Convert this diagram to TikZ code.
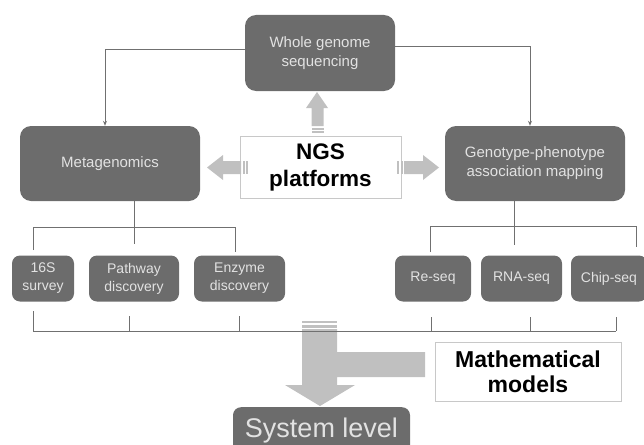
\documentclass[tikz,border=0pt]{standalone}
\usepackage{fontspec}
\setmainfont{Liberation Sans}
\usetikzlibrary{arrows.meta,calc}
\definecolor{boxgray}{RGB}{108,108,108}
\definecolor{boxtext}{RGB}{226,226,226}
\definecolor{linegray}{RGB}{112,112,112}
\definecolor{arrgray}{RGB}{192,192,192}
\definecolor{framegray}{RGB}{200,200,200}
\tikzset{
  bigbox/.style={fill=boxgray, rounded corners=11pt, inner sep=0pt, align=center,
     text=boxtext, font=\fontsize{15}{19}\selectfont},
  smallbox/.style={fill=boxgray, rounded corners=8pt, inner sep=0pt, align=center,
     text=boxtext, font=\fontsize{14}{18}\selectfont},
  whitebox/.style={fill=white, draw=framegray, line width=1pt, inner sep=0pt, align=center,
     text=black, font=\fontsize{22.5}{27}\selectfont\bfseries},
  conn/.style={draw=linegray, line width=1pt, -{Stealth[length=5pt,width=4pt]}},
  tree/.style={draw=linegray, line width=1pt},
  blockarrow/.style={fill=arrgray},
}
\begin{document}
\begin{tikzpicture}[x=1pt,y=-1pt]
\useasboundingbox (0,0) rectangle (644,444);
% main boxes
\node[bigbox, minimum width=150pt, minimum height=76pt] (wgs) at (320,53) {Whole genome\\sequencing};
\node[bigbox, minimum width=180pt, minimum height=75pt] (meta) at (110,163.5) {Metagenomics};
\node[bigbox, minimum width=180pt, minimum height=75pt] (geno) at (535,163.5) {Genotype-phenotype\\association mapping};
\node[whitebox, minimum width=161pt, minimum height=62pt] (ngs) at (320.5,167) {NGS\\platforms};
% children
\node[smallbox, minimum width=62pt, minimum height=46pt] (s16) at (43,278.5) {16S\\survey};
\node[smallbox, minimum width=90pt, minimum height=46pt] (path) at (134,278.5) {Pathway\\discovery};
\node[smallbox, minimum width=91pt, minimum height=46pt] (enz) at (239.5,278.5) {Enzyme\\discovery};
\node[smallbox, minimum width=76pt, minimum height=46pt] (reseq) at (433,278.5) {Re-seq};
\node[smallbox, minimum width=81pt, minimum height=46pt] (rna) at (521.5,278.5) {RNA-seq};
\node[smallbox, minimum width=76pt, minimum height=46pt] (chip) at (609,278.5) {Chip-seq};
% connectors from WGS
\draw[conn] ($(wgs.west)+(0,-3)$) -| ($(meta.north)+(-5,0)$);
\draw[conn] ($(wgs.east)+(0,-6)$) -| ($(geno.north)+(-5,0)$);
% block arrows from NGS
\fill[blockarrow] (311.5,126) -- (311.5,108) -- (306,108) -- (317,92) -- (328,108) -- (323.5,108) -- (323.5,126) -- cycle;
\fill[blockarrow] (311.5,127.5) rectangle (323.5,129.5);
\fill[blockarrow] (311.5,131) rectangle (323.5,133);
\fill[blockarrow] (241,161) -- (223,161) -- (223,155) -- (207,167.5) -- (223,180) -- (223,174) -- (241,174) -- cycle;
\fill[blockarrow] (242.5,161) rectangle (244.5,174);
\fill[blockarrow] (246,161) rectangle (248,174);
\fill[blockarrow] (404,161) -- (423,161) -- (423,155) -- (439,167.5) -- (423,180) -- (423,174) -- (404,174) -- cycle;
\fill[blockarrow] (397,161) rectangle (399,174);
\fill[blockarrow] (400.5,161) rectangle (402.5,174);
% left bracket
\draw[tree] (meta.south -| path.north) -- ($(path.north)+(0,-11)$);
\draw[tree] (33,250) -- (33,227) -- (235,227) -- (235,252);
% right bracket
\draw[tree] ($(geno.south)+(-21,0)$) -- (514,245);
\draw[tree] (430,252) -- (430,226) -- (636,226) -- (636,247);
% down arrow to system level
\fill[blockarrow] (302,321) rectangle (337,323);
\fill[blockarrow] (302,325) rectangle (337,327.5);
\fill[blockarrow] (302,329) -- (337,329) -- (337,352) -- (425,352) -- (425,377) -- (337,377) -- (337,385) -- (355,385) -- (320,406) -- (285,385) -- (302,385) -- cycle;
% bottom collecting line
\draw[tree] (33,331) -- (616,331);
\draw[tree] (33,311) -- (33,331);
\draw[tree] (129,316) -- (129,331);
\draw[tree] (239,316) -- (239,331);
\draw[tree] (431,317) -- (431,331);
\draw[tree] (530,317) -- (530,331);
\draw[tree] (616,317) -- (616,331);
% mathematical models
\node[whitebox, minimum width=186pt, minimum height=59pt, font=\fontsize{23}{25}\selectfont\bfseries] (math) at (528,371.5) {Mathematical\\models};
% system level
\node[fill=boxgray, rounded corners=8pt, inner sep=0pt, minimum width=177pt, minimum height=46pt,
      text=boxtext, font=\fontsize{27}{30}\selectfont, anchor=north] (sys) at (321.5,407) {\raisebox{4pt}{System level}};
\end{tikzpicture}
\end{document}
